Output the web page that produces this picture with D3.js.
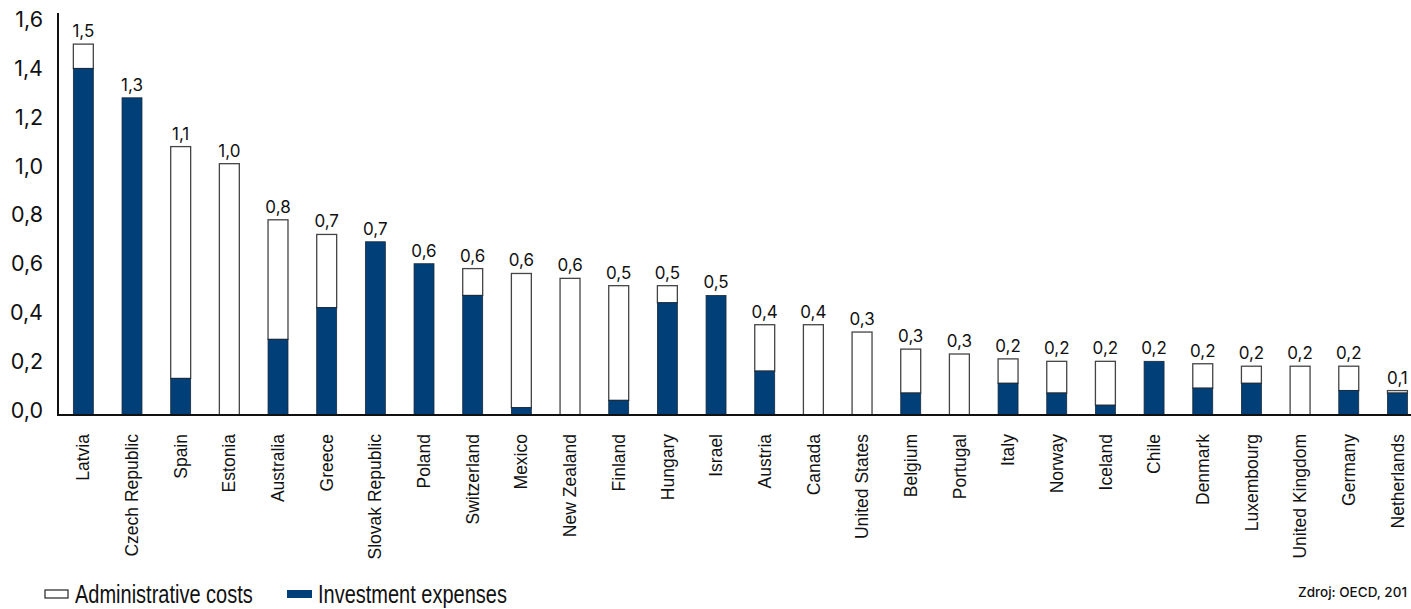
<!DOCTYPE html>
<html>
<head>
<meta charset="utf-8">
<script src="https://cdn.jsdelivr.net/npm/d3@7"></script>
<style>
  body { margin: 0; background: #fff; }
  svg { display: block; }
</style>
</head>
<body>
<svg id="chart" width="1411" height="609"></svg>
<script>
const countries = ["Latvia", "Czech Republic", "Spain", "Estonia", "Australia", "Greece",
    "Slovak Republic", "Poland", "Switzerland", "Mexico", "New Zealand", "Finland", "Hungary",
    "Israel", "Austria", "Canada", "United States", "Belgium", "Portugal", "Italy", "Norway",
    "Iceland", "Chile", "Denmark", "Luxembourg", "United Kingdom", "Germany", "Netherlands"];

const investment = [1.42, 1.30, 0.15, 0.00, 0.31, 0.44, 0.71, 0.62, 0.49, 0.03, 0.00, 0.06, 0.46,
    0.49, 0.18, 0.00, 0.00, 0.09, 0.00, 0.13, 0.09, 0.04, 0.22, 0.11, 0.13, 0.00, 0.10, 0.09];

const administrative = [0.10, 0.00, 0.95, 1.03, 0.49, 0.30, 0.00, 0.00, 0.11, 0.55, 0.56, 0.47, 0.07,
    0.00, 0.19, 0.37, 0.34, 0.18, 0.25, 0.10, 0.13, 0.18, 0.00, 0.10, 0.07, 0.20, 0.10, 0.01];

const yTicks = [0, 0.2, 0.4, 0.6, 0.8, 1.0, 1.2, 1.4, 1.6];

const navy = "#003f78";

const svg = d3.select("#chart");

const x = d3.scaleBand()
    .domain(countries)
    .range([59, 59 + 28 * 48.67])
    .paddingInner(0.59)
    .paddingOuter(0.295);

const y = d3.scaleLinear()
    .domain([0, 1.6])
    .range([415, 24.6]);

const fmt = v => d3.format(".1f")(v).replace(".", ",");

const rows = countries.map((c, i) => ({
    country: c,
    inv: investment[i],
    adm: administrative[i],
    total: investment[i] + administrative[i]
}));

// white part (administrative costs) sits on top of the investment part
svg.append("g").selectAll("rect.adm")
    .data(rows.filter(d => d.adm > 0))
    .join("rect")
    .attr("class", "adm")
    .attr("x", d => x(d.country))
    .attr("width", x.bandwidth())
    .attr("y", d => y(d.total))
    .attr("height", d => y(d.inv) - y(d.total))
    .attr("fill", "#fff")
    .attr("stroke", "#444")
    .attr("stroke-width", 1.3);

svg.append("g").selectAll("rect.inv")
    .data(rows.filter(d => d.inv > 0))
    .join("rect")
    .attr("class", "inv")
    .attr("x", d => x(d.country))
    .attr("width", x.bandwidth())
    .attr("y", d => y(d.inv))
    .attr("height", d => y(0) - y(d.inv))
    .attr("fill", navy)
    .attr("stroke", "#1a2a3a")
    .attr("stroke-width", 0.8);

// value labels
svg.append("g").selectAll("text")
    .data(rows)
    .join("text")
    .attr("x", d => x(d.country) + x.bandwidth() / 2)
    .attr("y", d => y(d.total) - 7)
    .attr("text-anchor", "middle")
    .attr("font-family", "Inter, Roboto, sans-serif")
    .attr("font-size", 17)
    .attr("fill", "#111")
    .text(d => fmt(d.total));

// y axis
const yAxis = svg.append("g")
    .attr("transform", "translate(58,0)")
    .call(d3.axisLeft(y).tickValues(yTicks).tickSize(0).tickPadding(15).tickFormat(fmt));
yAxis.select(".domain").remove();
yAxis.selectAll("text")
    .attr("font-family", "Inter, Roboto, sans-serif")
    .attr("font-size", 21.5)
    .attr("fill", "#111")
    .attr("dy", "0.1em");

svg.append("line")
    .attr("x1", 58).attr("x2", 58)
    .attr("y1", 13).attr("y2", 416)
    .attr("stroke", "#111").attr("stroke-width", 2);

// x axis
const xAxis = svg.append("g")
    .attr("transform", "translate(0,415)")
    .call(d3.axisBottom(x).tickSize(0).tickPadding(0));
xAxis.select(".domain").remove();
xAxis.selectAll("text")
    .attr("transform", "rotate(-90)")
    .attr("text-anchor", "end")
    .attr("x", -19)
    .attr("y", 0)
    .attr("dy", "0.35em")
    .attr("font-family", "'Liberation Sans', Arial, sans-serif")
    .attr("font-size", 17.5)
    .attr("fill", "#111");

svg.append("line")
    .attr("x1", 57).attr("x2", 1411)
    .attr("y1", 415).attr("y2", 415)
    .attr("stroke", "#111").attr("stroke-width", 2);

// legend (narrow type, squeezed horizontally)
const legend = svg.append("g");
legend.append("rect").attr("x", 45).attr("y", 590).attr("width", 23).attr("height", 8)
    .attr("fill", "#fff").attr("stroke", "#222").attr("stroke-width", 1.2);
legend.append("rect").attr("x", 287).attr("y", 590).attr("width", 25).attr("height", 8)
    .attr("fill", navy);
legend.selectAll("text")
    .data([[75, "Administrative costs"], [318, "Investment expenses"]])
    .join("text")
    .attr("transform", d => `translate(${d[0]},603) scale(0.8,1)`)
    .attr("font-family", "'Liberation Sans', Arial, sans-serif")
    .attr("font-size", 25)
    .attr("fill", "#111")
    .text(d => d[1]);

svg.append("text")
    .attr("x", 1407).attr("y", 597)
    .attr("text-anchor", "end")
    .attr("font-family", "Inter, Roboto, sans-serif")
    .attr("font-weight", 500)
    .attr("font-size", 13.5)
    .attr("fill", "#111")
    .text("Zdroj: OECD, 201");
</script>
</body>
</html>
